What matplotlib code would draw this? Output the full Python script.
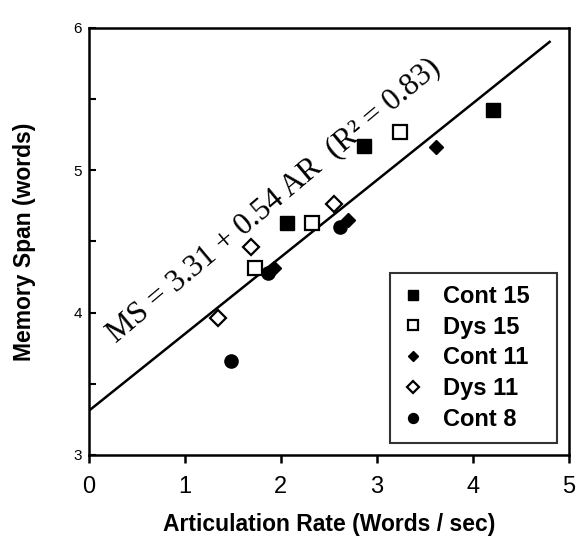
import matplotlib
matplotlib.use("Agg")
import matplotlib.pyplot as plt
import numpy as np

plt.rcParams['font.family'] = ['Liberation Sans', 'DejaVu Sans']

# articulation rate (words/sec) and memory span (words) per group
cont15_ar = [2.06, 2.87, 4.21]
cont15_ms = [4.63, 5.17, 5.42]
dys15_ar = [1.73, 2.32, 3.24]
dys15_ms = [4.31, 4.63, 5.27]
cont11_ar = [1.93, 2.70, 3.62]
cont11_ms = [4.31, 4.65, 5.16]
dys11_ar = [1.35, 1.69, 2.55]
dys11_ms = [3.96, 4.46, 4.76]
cont8_ar = [1.48, 1.87, 2.62]
cont8_ms = [3.66, 4.28, 4.60]

intercept, slope = 3.31, 0.54
line_end = 4.8

fig = plt.figure(figsize=(5.81, 5.37), dpi=100)
ax = fig.add_axes([0.153, 0.153, 0.826, 0.795])

xs = np.array([0, line_end])
ax.plot(xs, intercept + slope * xs, color='black', lw=1.8, zorder=2)

ax.plot(cont15_ar, cont15_ms, 's', color='black', ms=10, ls='none', label='Cont 15', zorder=3)
ax.plot(dys15_ar, dys15_ms, 's', mfc='white', mec='black', mew=1.6, ms=10, ls='none', label='Dys 15', zorder=3)
ax.plot(cont11_ar, cont11_ms, 'D', color='black', ms=7, ls='none', label='Cont 11', zorder=3)
ax.plot(dys11_ar, dys11_ms, 'D', mfc='white', mec='black', mew=1.6, ms=8, ls='none', label='Dys 11', zorder=3)
ax.plot(cont8_ar, cont8_ms, 'o', color='black', ms=9.5, ls='none', label='Cont 8', zorder=3)

ax.text(1.93, 4.79, 'MS = 3.31 + 0.54 AR  (R² = 0.83)', family='Liberation Serif',
        fontsize=22.5, rotation=40, rotation_mode='anchor', ha='center', va='center')

ax.set_xlim(0, 5)
ax.set_ylim(3, 6)
ax.set_xticks([0, 1, 2, 3, 4, 5])
ax.set_yticks([3, 4, 5, 6])
ax.set_yticks([3.5, 4.5, 5.5], minor=True)
ax.tick_params(axis='x', direction='out', length=6, width=1.8, labelsize=17, pad=9)
ax.tick_params(axis='y', which='both', direction='in', length=5, width=1.5, labelsize=11, pad=5)
for sp in ax.spines.values():
    sp.set_linewidth(1.8)

ax.set_xlabel('Articulation Rate (Words / sec)', fontsize=16.5, fontweight='bold', labelpad=11)
ax.set_ylabel('Memory Span (words)', fontsize=16.5, fontweight='bold', labelpad=27)

leg = ax.legend(loc='lower left', bbox_to_anchor=(0.627, 0.028, 0.348, 0.4), mode='expand',
                frameon=True, fancybox=False, edgecolor='black', handlelength=1.0,
                handletextpad=0.75, labelspacing=0.33, borderpad=0.5, markerscale=0.75,
                prop={'weight': 'bold', 'size': 17}, borderaxespad=0)
leg.get_frame().set_linewidth(1.5)

fig.savefig('out.png', dpi=100)
